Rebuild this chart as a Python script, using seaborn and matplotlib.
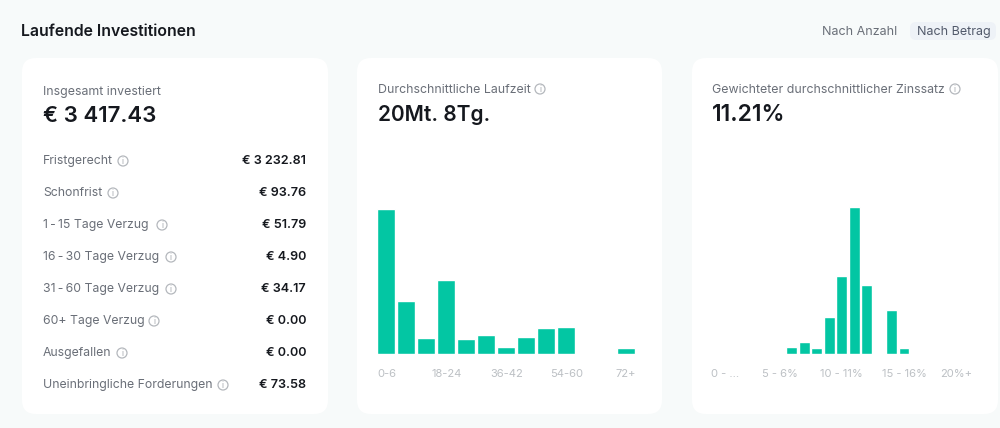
import matplotlib
matplotlib.use("Agg")
import matplotlib.pyplot as plt
import pandas as pd
import seaborn as sns
from matplotlib.patches import FancyBboxPatch, Circle

# daten
status_labels = ["Fristgerecht", "Schonfrist", "1\u2009-\u200915 Tage Verzug", "16\u2009-\u200930 Tage Verzug",
                 "31\u2009-\u200960 Tage Verzug", "60+ Tage Verzug", "Ausgefallen", "Uneinbringliche Forderungen"]
status_values = ["€ 3 232.81", "€ 93.76", "€ 51.79", "€ 4.90", "€ 34.17", "€ 0.00", "€ 0.00", "€ 73.58"]
status_icon_x = [123, 113, 162, 171, 171, 154, 122, 223]

laufzeit_bins = ["0-6", "6-12", "12-18", "18-24", "24-30", "30-36", "36-42", "42-48", "48-54", "54-60", "60-66",
                 "66-72", "72+"]
laufzeit_werte = [144.7, 52.3, 16, 73.7, 15, 18.7, 6.3, 17, 25.7, 26.7, 0, 0, 5.3]

zins_bins = [f"{i} - {i + 1}%" for i in range(20)] + ["20%+"]
zins_werte = [0, 0, 0, 0, 0, 0, 6.3, 11.3, 5.3, 36.3, 77.7, 146.7, 69, 0, 43.3, 5.3, 0, 0, 0, 0, 0]

sns.set_theme(style="white")
plt.rcParams["font.family"] = ["Inter", "DejaVu Sans"]

DUNKEL = "#15181e"
GRAU = "#6a6f78"
ACHSE = "#bcc0c4"
GRUEN = "#03c6a3"
W, H = 1000, 428

fig = plt.figure(figsize=(10, 4.28), dpi=100, facecolor="#f7fafa")
bg = fig.add_axes([0, 0, 1, 1])
bg.set_xlim(0, W)
bg.set_ylim(H, 0)
bg.axis("off")


def karte(x0, x1):
    bg.add_patch(FancyBboxPatch((x0 + 14, 72), x1 - x0 - 28, 328,
                                boxstyle="round,pad=14,rounding_size=14", fc="white", ec="none"))


def info(x, y):
    bg.add_patch(Circle((x, y), 5, fc="none", ec="#b4b8bd", lw=0.9))
    bg.text(x, y + 0.2, "i", fontsize=6, color="#a4a8ae", ha="center", va="center")


for x0, x1 in [(22, 328), (357, 662), (692, 998)]:
    karte(x0, x1)

bg.text(21, 31.5, "Laufende Investitionen", fontsize=11.4, fontweight="semibold", color=DUNKEL, va="center")
bg.add_patch(FancyBboxPatch((914, 26), 78, 10, boxstyle="round,pad=4,rounding_size=6", fc="#eef2f7", ec="none"))
bg.text(822, 31.5, "Nach Anzahl", fontsize=9, color=GRAU, va="center")
bg.text(917, 31.5, "Nach Betrag", fontsize=9, color="#525a6b", va="center")

# linke karte
bg.text(43, 91.5, "Insgesamt investiert", fontsize=8.9, color=GRAU, va="center")
bg.text(43, 116, "€ 3 417.43", fontsize=16, fontweight="semibold", color=DUNKEL, va="center")
for i, (lab, val, ix) in enumerate(zip(status_labels, status_values, status_icon_x)):
    y = 161 + i * 32
    bg.text(43, y, lab, fontsize=8.8, color=GRAU, va="center")
    bg.text(306, y, val, fontsize=9.1, fontweight="semibold", color=DUNKEL, va="center", ha="right")
    info(ix, y)

# mittlere und rechte karte
bg.text(378, 89.5, "Durchschnittliche Laufzeit", fontsize=8.9, color=GRAU, va="center")
bg.text(378, 114.5, "20Mt. 8Tg.", fontsize=15, fontweight="semibold", color=DUNKEL, va="center")
info(540, 89)
bg.text(712, 89.5, "Gewichteter durchschnittlicher Zinssatz", fontsize=8.9, color=GRAU, va="center")
bg.text(712, 114.5, "11.21%", fontsize=16.5, fontweight="semibold", color=DUNKEL, va="center")
info(955, 89)


def balken(bins, werte, links, rechts, ticks, tick_labels, breite):
    oben, unten = 205, 353.5
    ax = fig.add_axes([links / W, 1 - unten / H, (rechts - links) / W, (unten - oben) / H])
    df = pd.DataFrame({"bin": bins, "wert": werte})
    sns.barplot(data=df, x="bin", y="wert", order=bins, color=GRUEN, saturation=1, width=breite, ax=ax)
    ax.set_xlim(-0.5, len(bins) - 0.5)
    ax.set_ylim(0, unten - oben)
    ax.set_xlabel("")
    ax.set_ylabel("")
    ax.set_yticks([])
    ax.set_xticks(ticks, tick_labels)
    ax.tick_params(axis="x", length=0, pad=11, labelsize=8, labelcolor=ACHSE)
    ax.patch.set_alpha(0)
    sns.despine(ax=ax, left=True, bottom=True)
    return ax


balken(laufzeit_bins, laufzeit_werte, 376.5, 636, [0, 3, 6, 9, 12],
       ["0-6", "18-24", "36-42", "54-60", "72+"], 0.9)

ax3 = balken(zins_bins, zins_werte, 711, 972.5, [-0.5, 5, 10, 15, 20.5],
             ["0 - ...", "5 - 6%", "10 - 11%", "15 - 16%", "20%+"], 0.88)
labs = ax3.get_xticklabels()
labs[0].set_ha("left")
labs[-1].set_ha("right")

fig.savefig("out.png", dpi=100, facecolor=fig.get_facecolor())
